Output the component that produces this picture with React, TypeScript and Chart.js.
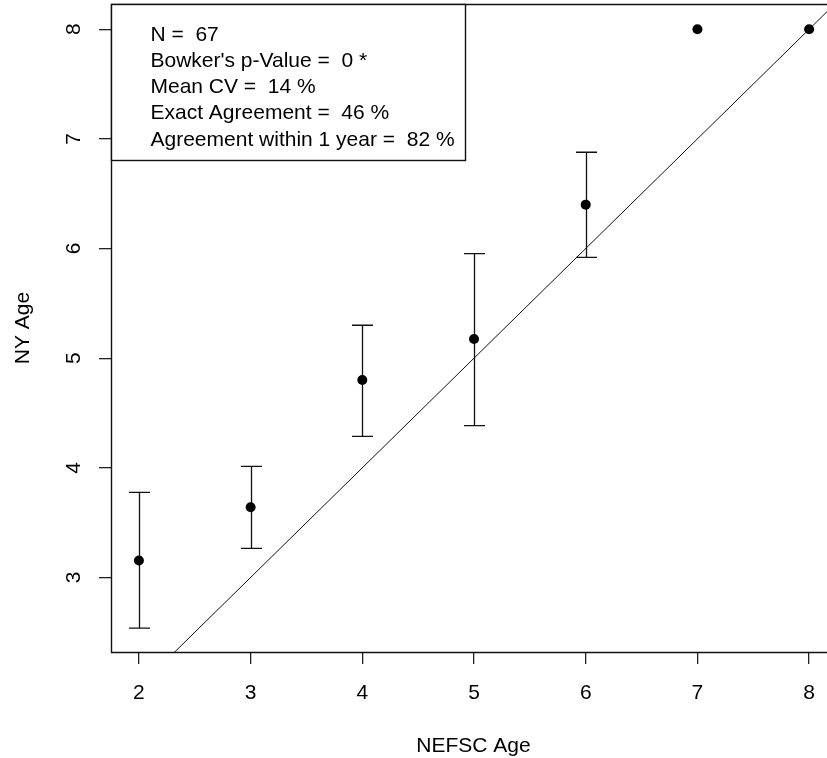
import React, { useEffect, useRef } from "react";
import { Chart, registerables } from "chart.js";

Chart.register(...registerables);

const nefscAge = [2, 3, 4, 5, 6, 7, 8];
const nyMeanAge = [3.155, 3.64, 4.8, 5.175, 6.4, 8, 8];
const nyLowerCI = [2.537, 3.265, 4.287, 4.384, 5.92, null, null];
const nyUpperCI = [3.776, 4.013, 5.3, 5.954, 6.878, null, null];
const xTickValues = [2, 3, 4, 5, 6, 7, 8];
const yTickValues = [3, 4, 5, 6, 7, 8];
const oneToOneEnds = [1.5, 9];
const statsLines = [
  "N =  67",
  "Bowker's p-Value =  0 *",
  "Mean CV =  14 %",
  "Exact Agreement =  46 %",
  "Agreement within 1 year =  82 %",
];
const xAxisTitle = "NEFSC Age";
const yAxisTitle = "NY Age";

const FONT_FAMILY = '"Liberation Sans", Arial, sans-serif';
const FONT = `21px ${FONT_FAMILY}`;

const rPlotPlugin = {
  id: "rPlot",
  beforeDatasetsDraw(chart: any) {
    const { ctx } = chart;
    const xs = chart.scales.x;
    const ys = chart.scales.y;
    ctx.save();
    ctx.strokeStyle = "#111";
    ctx.lineWidth = 1.3;
    nefscAge.forEach((a, i) => {
      const lo = nyLowerCI[i];
      const hi = nyUpperCI[i];
      if (lo == null || hi == null) return;
      const px = Math.round(xs.getPixelForValue(a)) + 0.5;
      const pLo = ys.getPixelForValue(lo);
      const pHi = ys.getPixelForValue(hi);
      ctx.beginPath();
      ctx.moveTo(px, pLo);
      ctx.lineTo(px, pHi);
      ctx.moveTo(px - 10.5, pLo);
      ctx.lineTo(px + 10.5, pLo);
      ctx.moveTo(px - 10.5, pHi);
      ctx.lineTo(px + 10.5, pHi);
      ctx.stroke();
    });
    ctx.restore();
  },
  afterDraw(chart: any) {
    const { ctx, chartArea } = chart;
    const ys = chart.scales.y;
    const left = chartArea.left;
    const top = chartArea.top;
    const bottom = chartArea.bottom;
    ctx.save();
    // plot box
    ctx.strokeStyle = "#111";
    ctx.lineWidth = 1.4;
    ctx.beginPath();
    ctx.moveTo(chart.width + 20, Math.round(top) + 0.5);
    ctx.lineTo(Math.round(left) + 0.5, Math.round(top) + 0.5);
    ctx.lineTo(Math.round(left) + 0.5, Math.round(bottom) + 0.5);
    ctx.lineTo(chart.width + 20, Math.round(bottom) + 0.5);
    ctx.stroke();

    // stats legend box
    ctx.fillStyle = "#fff";
    const bx = Math.round(left) + 0.5;
    const by = Math.round(top) + 0.5;
    ctx.fillRect(bx, by, 354, 156);
    ctx.strokeRect(bx, by, 354, 156);
    ctx.fillStyle = "#000";
    ctx.font = FONT;
    ctx.textAlign = "left";
    ctx.textBaseline = "alphabetic";
    statsLines.forEach((line, i) => {
      ctx.fillText(line, 150.5, 40.7 + i * 26.2);
    });

    // y tick labels (rotated, parallel to axis)
    yTickValues.forEach((v) => {
      const py = ys.getPixelForValue(v);
      ctx.save();
      ctx.translate(80, py);
      ctx.rotate(-Math.PI / 2);
      ctx.textAlign = "center";
      ctx.fillText(String(v), 0, 0);
      ctx.restore();
    });

    // axis titles
    ctx.textAlign = "center";
    ctx.fillText(xAxisTitle, 473.5, 752);
    ctx.save();
    ctx.translate(29, (top + bottom) / 2);
    ctx.rotate(-Math.PI / 2);
    ctx.fillText(yAxisTitle, 0, 0);
    ctx.restore();
    ctx.restore();
  },
};

export default function App() {
  const canvasRef = useRef<HTMLCanvasElement | null>(null);

  useEffect(() => {
    if (!canvasRef.current) return;
    const points = nefscAge.map((a, i) => ({ x: a, y: nyMeanAge[i] }));
    const line = oneToOneEnds.map((v) => ({ x: v, y: v }));
    const chart = new Chart(canvasRef.current, {
      type: "scatter",
      data: {
        datasets: [
          {
            type: "line",
            label: "1:1",
            data: line,
            borderColor: "#111",
            borderWidth: 1,
            pointRadius: 0,
            fill: false,
          } as any,
          {
            label: "Mean NY Age",
            data: points,
            backgroundColor: "#000",
            borderColor: "#000",
            pointRadius: 5,
            borderWidth: 0,
            clip: false,
          } as any,
        ],
      },
      options: {
        animation: false,
        responsive: false,
        devicePixelRatio: 1,
        layout: { autoPadding: false, padding: { left: 0, top: 4, right: 0, bottom: 0 } },
        plugins: {
          legend: { display: false },
          tooltip: { enabled: false },
        },
        scales: {
          x: {
            type: "linear",
            min: 1.75,
            max: 8.16,
            afterBuildTicks: (s: any) => {
              s.ticks = xTickValues.map((v) => ({ value: v }));
            },
            afterFit: (s: any) => {
              s.height = 106;
              s.paddingLeft = 0;
              s.paddingRight = 0;
            },
            border: { display: false },
            grid: {
              display: true,
              drawOnChartArea: false,
              drawTicks: true,
              tickLength: 12,
              color: "#222",
              lineWidth: 1.3,
            },
            ticks: {
              color: "#000",
              font: { family: FONT_FAMILY, size: 21 },
              padding: 17,
              maxRotation: 0,
              autoSkip: false,
            },
          },
          y: {
            type: "linear",
            min: 2.32,
            max: 8.23,
            afterBuildTicks: (s: any) => {
              s.ticks = yTickValues.map((v) => ({ value: v }));
            },
            afterFit: (s: any) => {
              s.width = 111;
              s.paddingTop = 0;
              s.paddingBottom = 0;
            },
            border: { display: false },
            grid: {
              display: true,
              drawOnChartArea: false,
              drawTicks: true,
              tickLength: 12,
              color: "#222",
              lineWidth: 1.3,
            },
            ticks: { display: false },
          },
        },
      },
      plugins: [rPlotPlugin],
    });
    return () => chart.destroy();
  }, []);

  return (
    <div style={{ position: "absolute", left: 0, top: 0, width: 827, height: 758, background: "#fff" }}>
      <canvas ref={canvasRef} width={827} height={758} style={{ display: "block" }} />
    </div>
  );
}
